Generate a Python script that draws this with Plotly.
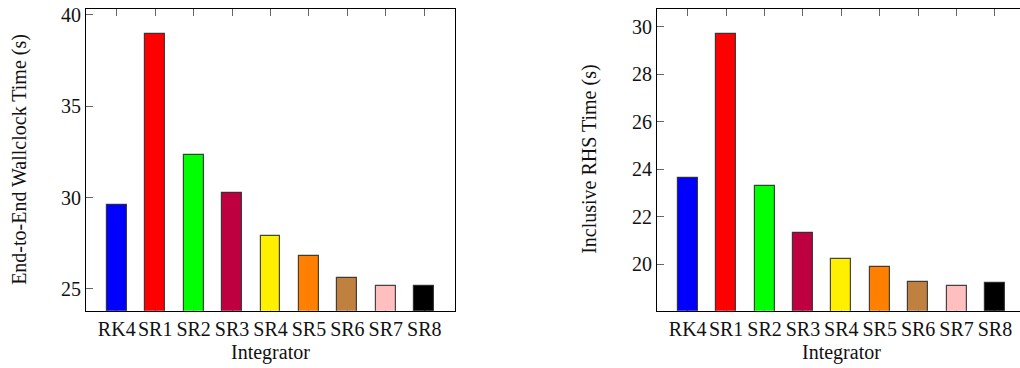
import plotly.graph_objects as go

categories = ["RK4", "SR1", "SR2", "SR3", "SR4", "SR5", "SR6", "SR7", "SR8"]
wallclock = [29.6, 38.96, 32.35, 30.23, 27.87, 26.81, 25.62, 25.16, 25.16]
rhs_time = [23.63, 29.70, 23.31, 21.32, 20.22, 19.89, 19.24, 19.09, 19.21]
bar_colors = ["#0000FF", "#FF0000", "#00FF00", "#BF0040", "#FFF000",
              "#FF8000", "#BF8040", "#FFBFBF", "#000000"]
left_yticks = [25, 30, 35, 40]
right_yticks = [20, 22, 24, 26, 28, 30]

W, H = 1020, 368
FONT = "Liberation Serif"
FS = 20
TICKC = "#666666"

def px(x):
    return x / W

def py(y):
    return 1 - y / H

x_idx = list(range(len(categories)))

fig = go.Figure()
fig.add_trace(go.Bar(x=x_idx, y=wallclock, width=0.52, xaxis="x", yaxis="y",
                     marker=dict(color=bar_colors, line=dict(color="rgba(40,40,40,0.85)", width=1.2)),
                     showlegend=False))
fig.add_trace(go.Bar(x=x_idx, y=rhs_time, width=0.52, xaxis="x2", yaxis="y2",
                     marker=dict(color=bar_colors, line=dict(color="rgba(40,40,40,0.85)", width=1.2)),
                     showlegend=False))

ydom = [py(310), py(4)]
L_dom = [px(86), px(455)]
R_dom = [px(657), 1.0]
L_range = [-0.8, 8.8]
R_range = [-0.8, -0.8 + (1020 - 657) / 38.4]
L_yrange = [23.8, 40.32]
R_yrange = [18.03, 30.75]

tickfont = dict(family=FONT, size=FS, color="#111")

common_x = dict(tickmode="array", tickvals=x_idx, ticktext=categories,
                ticks="inside", ticklen=7, tickcolor=TICKC, tickwidth=1.2,
                mirror="allticks", layer="below traces",
                showline=True, linecolor="black", linewidth=1.2, showgrid=False,
                zeroline=False, tickfont=tickfont, fixedrange=True,
                ticklabeloverflow="allow")
common_y = dict(tickmode="array", ticks="inside", ticklen=7, tickcolor=TICKC,
                tickwidth=1.2, showline=True, linecolor="black", linewidth=1.2,
                showgrid=False, zeroline=False, tickfont=tickfont, fixedrange=True,
                ticklabeloverflow="allow")

fig.update_layout(
    width=W, height=H, margin=dict(l=0, r=0, t=0, b=0),
    paper_bgcolor="white", plot_bgcolor="white",
    bargap=0,
    xaxis=dict(domain=L_dom, range=L_range, anchor="y", **common_x),
    xaxis2=dict(domain=R_dom, range=R_range, anchor="y2", **common_x),
    yaxis=dict(domain=ydom, range=L_yrange, anchor="x", tickvals=left_yticks,
               side="left", mirror=True, **common_y),
    yaxis2=dict(domain=ydom, range=R_yrange, anchor="x2", tickvals=right_yticks,
                **common_y),
    annotations=[
        dict(text="Integrator", x=px(270.5), y=py(352), xref="paper", yref="paper",
             showarrow=False, xanchor="center", yanchor="middle",
             font=dict(family=FONT, size=FS, color="#111")),
        dict(text="Integrator", x=px(841), y=py(352), xref="paper", yref="paper",
             showarrow=False, xanchor="center", yanchor="middle",
             font=dict(family=FONT, size=FS, color="#111")),
        dict(text="End-to-End Wallclock Time (s)", x=px(20), y=py(157), xref="paper",
             yref="paper", showarrow=False, xanchor="center", yanchor="middle",
             textangle=-90, font=dict(family=FONT, size=FS, color="#111")),
        dict(text="Inclusive RHS Time (s)", x=px(590), y=py(157), xref="paper",
             yref="paper", showarrow=False, xanchor="center", yanchor="middle",
             textangle=-90, font=dict(family=FONT, size=FS, color="#111")),
    ],
)

fig.write_html("out.html")
